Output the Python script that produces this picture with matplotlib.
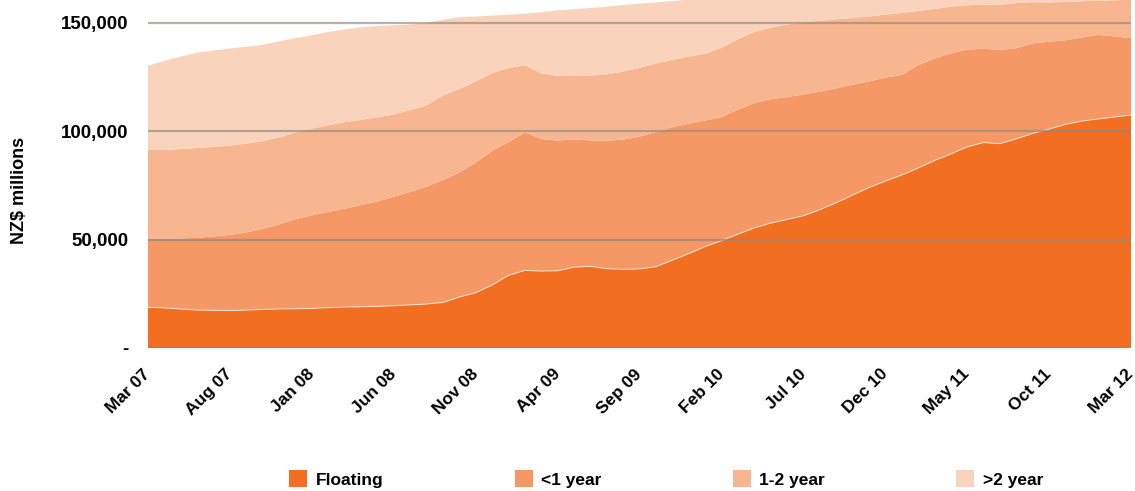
import numpy as np
import matplotlib.pyplot as plt
import matplotlib as mpl
import matplotlib.transforms as mtransforms
from matplotlib.patches import Patch

mpl.rcParams['font.family'] = ['Liberation Sans', 'DejaVu Sans']
mpl.rcParams['font.weight'] = 'bold'

# monthly mortgage balances by interest rate period, Mar 07 .. Mar 12 (NZ$ millions)
floating = [18800, 18500, 18000, 17500, 17400, 17300, 17500, 17800, 18000, 18100,
            18300, 18600, 18900, 19000, 19200, 19500, 19900, 20300, 21000, 23500,
            25500, 29000, 33500, 35800, 35500, 35600, 37300, 37700, 36600, 36300,
            36500, 37500, 40500, 43500, 46800, 49500, 52500, 55400, 57600, 59300,
            61000, 63800, 67000, 70500, 74000, 77000, 79800, 83000, 86500, 89500,
            92800, 94800, 94300, 96500, 99000, 101000, 103200, 104700, 105700, 106600,
            107500]
under_1yr = [31800, 32100, 32600, 33300, 34100, 34900, 35800, 37200, 39000, 41400,
             42900, 44200, 45400, 47000, 48400, 50300, 52100, 54200, 56500, 57500,
             60000, 62000, 61500, 63700, 61000, 60100, 59000, 58100, 59000, 59900,
             61000, 62200, 61300, 60000, 58200, 57000, 57500, 57600, 57200, 56500,
             56000, 54500, 52800, 51000, 49000, 47800, 46200, 47500, 47000, 46500,
             44900, 43300, 43300, 41800, 41600, 40300, 38800, 38600, 38800, 37200,
             35500]
one_two_yr = [40800, 40800, 41200, 41500, 41300, 41200, 41000, 40500, 40200, 40000,
              40000, 40000, 39900, 39300, 38900, 38000, 37800, 37500, 39000, 38500,
              37500, 35800, 34200, 31000, 30300, 29900, 29200, 29900, 30700, 31400,
              31800, 31600, 31200, 31000, 30800, 32000, 32500, 32800, 33000, 33500,
              33300, 32700, 31900, 30800, 30000, 29000, 28600, 25000, 23000, 21500,
              20500, 20300, 20800, 20900, 19000, 18200, 17700, 16700, 15800, 16700,
              17700]
over_2yr = [38900, 41100, 42700, 44000, 44500, 44800, 44700, 44400, 44300, 43500,
            43100, 43000, 42800, 42700, 42100, 41100, 39500, 37800, 35000, 33100,
            30000, 26600, 24600, 23800, 28100, 30200, 30800, 31200, 31200, 30700,
            29600, 28200, 27100, 26300, 25600, 23500, 20000, 17200, 15600, 14600,
            14000, 13800, 13500, 13300, 13000, 12600, 12200, 11700, 11100, 10500,
            10200, 10400, 10700, 10300, 10300, 10700, 10900, 11000, 11000, 11200,
            11300]

series_names = ['Floating', '<1 year', '1-2 year', '>2 year']
colors = ['#F26F21', '#F59865', '#F8B690', '#FAD3BD']

tick_labels = ['Mar 07', 'Aug 07', 'Jan 08', 'Jun 08', 'Nov 08', 'Apr 09', 'Sep 09',
               'Feb 10', 'Jul 10', 'Dec 10', 'May 11', 'Oct 11', 'Mar 12']
y_ticks = [0, 50000, 100000, 150000]
y_labels = ['-', '50,000', '100,000', '150,000']

months = np.arange(len(floating))

fig = plt.figure(figsize=(11.35, 4.91), dpi=100)
ax = fig.add_axes([148/1135, 143/491, 983/1135, 348/491])

ax.stackplot(months, floating, under_1yr, one_two_yr, over_2yr,
             colors=colors, linewidth=0)
# faint light edge along the floating series
ax.plot(months, floating, color='white', lw=0.7, alpha=0.7, zorder=2)

for yv in y_ticks:
    ax.axhline(yv, color='#8f8882', lw=1.6, alpha=0.65, zorder=3)

ax.set_xlim(0, len(floating) - 1)
ax.set_ylim(0, 160600)

ax.set_xticks(months[::5])
ax.set_xticklabels(tick_labels, fontsize=12.5, fontweight='bold')
nudge = mtransforms.ScaledTranslation(-4/72, 0, fig.dpi_scale_trans)
for lbl in ax.get_xticklabels():
    lbl.set_rotation(45)
    lbl.set_ha('right')
    lbl.set_va('center')
    lbl.set_rotation_mode('anchor')
    lbl.set_transform(lbl.get_transform() + nudge)
ax.set_yticks(y_ticks)
ax.set_yticklabels(y_labels, fontsize=13.5, fontweight='bold')
ax.tick_params(axis='x', length=0, pad=17)
ax.tick_params(axis='y', length=0, pad=14)

for s in ax.spines.values():
    s.set_visible(False)

ax.set_ylabel('NZ$ millions', fontsize=13, fontweight='bold')
ax.yaxis.set_label_coords(-120/983, 158/348)

handles = [Patch(facecolor=c, edgecolor='none') for c in colors]
fig.legend(handles, series_names, loc='center left',
           bbox_to_anchor=(289/1135, 12/491), ncol=4, frameon=False,
           prop={'size': 12.5, 'weight': 'bold'},
           handlelength=1.04, handleheight=1.15, handletextpad=0.5,
           columnspacing=7.55, borderpad=0, borderaxespad=0)

fig.savefig('out.png', dpi=100)
